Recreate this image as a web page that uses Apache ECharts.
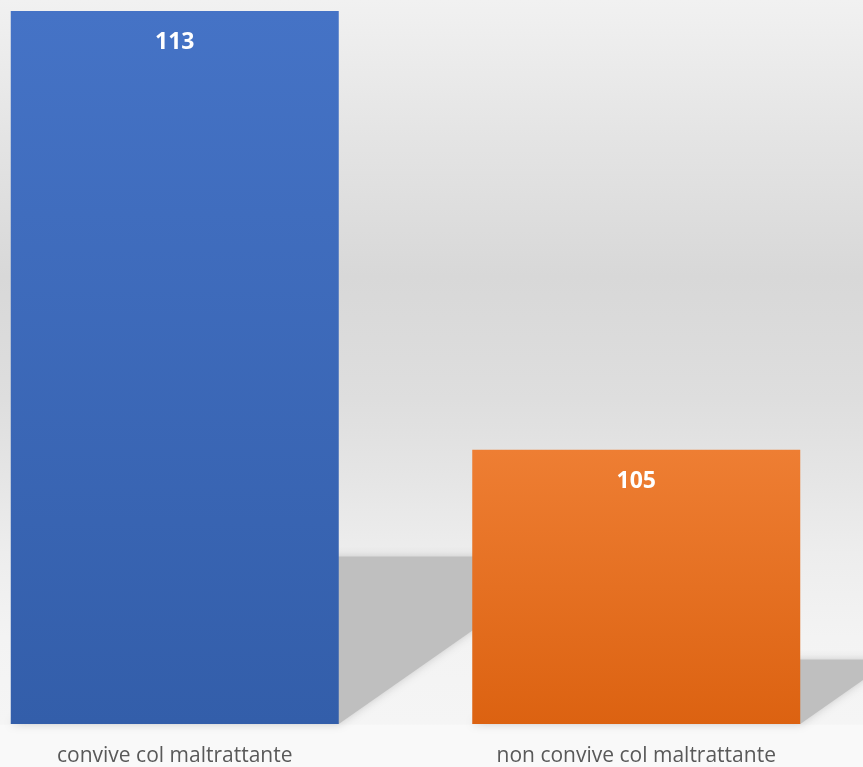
<!DOCTYPE html>
<html>
<head>
<meta charset="utf-8">
<script src="https://cdn.jsdelivr.net/npm/echarts@6/dist/echarts.min.js"></script>
<style>
html,body{margin:0;padding:0;overflow:hidden;width:863px;height:767px;background:#f9f9f9;}
#wrap{position:relative;width:863px;height:767px;overflow:hidden;}
#main{position:absolute;left:-56px;top:0;width:923px;height:767px;}
</style>
</head>
<body>
<div id="wrap"><div id="main"></div></div>
<script>
const categories = ['convive col maltrattante', 'non convive col maltrattante'];
const values = [113, 105];
const barColors = [
  ['#4573C6', '#335EAA'],
  ['#EE7E33', '#DC6211']
];

const chart = echarts.init(document.getElementById('main'));
const BAR_W = 328;
const Y_MIN = 100;

chart.setOption({
  animation: false,
  backgroundColor: new echarts.graphic.LinearGradient(0, 0, 0, 1, [
    {offset: 0, color: '#f1f1f1'},
    {offset: 0.18, color: '#e4e4e4'},
    {offset: 0.36, color: '#d8d8d8'},
    {offset: 0.52, color: '#dedede'},
    {offset: 0.62, color: '#e5e5e5'},
    {offset: 0.72, color: '#ededed'},
    {offset: 0.83, color: '#f3f3f3'},
    {offset: 0.944, color: '#f5f5f5'},
    {offset: 0.946, color: '#f9f9f9'},
    {offset: 1, color: '#f9f9f9'}
  ]),
  grid: {left: 0, right: 0, top: 11, bottom: 42, containLabel: false},
  xAxis: {
    type: 'category',
    data: categories,
    axisLine: {show: false},
    axisTick: {show: false},
    axisLabel: {
      color: '#595959',
      fontFamily: 'Open Sans',
      fontSize: 21,
      margin: 22
    }
  },
  yAxis: {
    type: 'value',
    min: Y_MIN,
    max: 113,
    show: false,
    splitLine: {show: false}
  },
  series: [
    {
      type: 'custom',
      z: 1,
      silent: true,
      data: values.map((v, i) => [i, v]),
      renderItem: function (params, api) {
        const idx = api.value(0);
        const val = api.value(1);
        const base = api.coord([idx, Y_MIN]);
        const top = api.coord([idx, val]);
        const h = base[1] - top[1];
        const dy = 0.235 * h;
        const dx = 0.336 * h;
        const xL = base[0] - BAR_W / 2;
        const xR = base[0] + BAR_W / 2;
        return {
          type: 'polygon',
          shape: {points: [[xL, base[1]], [xR, base[1]], [xR + dx, base[1] - dy], [xL + dx, base[1] - dy]]},
          style: {fill: '#bfbfbf', shadowBlur: 8, shadowColor: 'rgba(190,190,190,0.8)'}
        };
      }
    },
    {
      type: 'bar',
      z: 2,
      barWidth: BAR_W,
      data: values.map((v, i) => ({
        value: v,
        itemStyle: {
          color: new echarts.graphic.LinearGradient(0, 0, 0, 1, [
            {offset: 0, color: barColors[i][0]},
            {offset: 1, color: barColors[i][1]}
          ])
        }
      })),
      label: {
        show: true,
        position: 'insideTop',
        distance: 20,
        color: '#ffffff',
        fontFamily: 'Open Sans',
        fontWeight: 'bold',
        fontSize: 23
      }
    }
  ]
});
</script>
</body>
</html>
